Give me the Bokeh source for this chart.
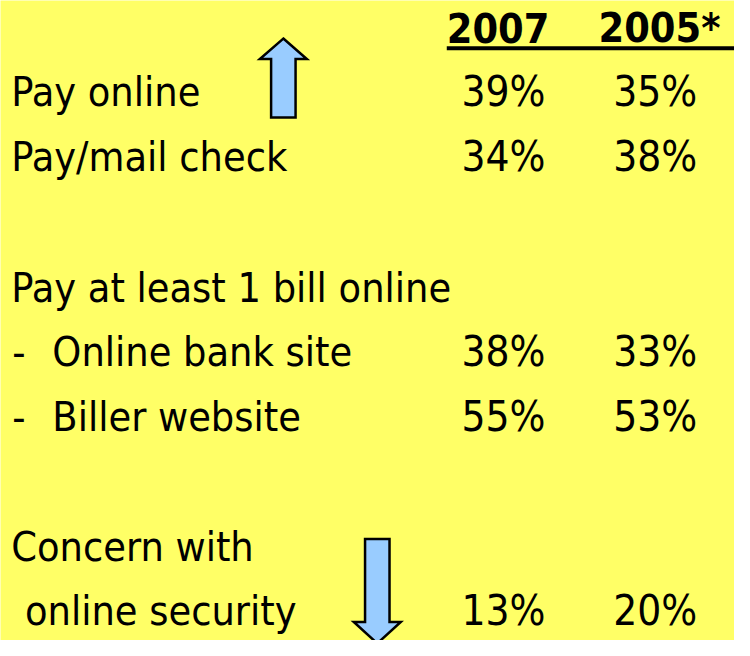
from bokeh.plotting import figure
from bokeh.models import Range1d, ColumnDataSource
from bokeh.core.properties import value
from bokeh.embed import file_html
from bokeh.resources import INLINE

# ---- data ----
years = ["2007", "2005*"]
labels = ["Pay online", "Pay/mail check", "Pay at least 1 bill online",
          "Online bank site", "Biller website", "Concern with", "online security"]
bullets = ["", "", "", "-", "-", "", ""]
pct_2007 = [39, 34, None, 38, 55, None, 13]
pct_2005 = [35, 38, None, 33, 53, None, 20]
trend = ["up", "", "", "", "", "", "down"]   # arrow markers

# ---- layout (reference-pixel coordinates, y downward) ----
W, H = 734, 640
REF_W, REF_H = 750, 656
FONT = value("DejaVu Sans Condensed")
BG = "#FFFF66"
ARROW_FILL = "#99CCFF"
LAB_FS, NUM_FS, HDR_FS = 41, 42, 41
SHIFT = 0.4  # em correction for the svg alphabetic baseline

row_base = [110.5, 177, 311.5, 377, 443, 577, 642]
label_x = [11, 11, 11, 53, 53, 11, 25]
col_x = [471, 626]
hdr_x = [456, 611]
hdr_base = 45
arrow_x = {"up": 289, "down": 385}

p = figure(width=W, height=H, output_backend="svg", toolbar_location=None,
           x_range=Range1d(0, REF_W), y_range=Range1d(REF_H, 0),
           min_border=0)
p.axis.visible = False
p.grid.visible = False
p.outline_line_color = None
p.background_fill_color = BG
p.border_fill_color = BG


def by(base, fs):
    return base - SHIFT * fs


# header
hdr = ColumnDataSource(dict(x=hdr_x, y=[by(hdr_base, HDR_FS)] * 2, t=years))
p.text(x="x", y="y", text="t", source=hdr, text_font=FONT, text_font_size=f"{HDR_FS}px",
       text_font_style="bold", text_baseline="alphabetic", text_align="left",
       text_color="black")
p.segment(x0=[456], y0=[49], x1=[750], y1=[49], line_color="black", line_width=4)

# labels
lab = ColumnDataSource(dict(x=label_x, y=[by(b, LAB_FS) for b in row_base], t=labels))
p.text(x="x", y="y", text="t", source=lab, text_font=FONT, text_font_size=f"{LAB_FS}px",
       text_baseline="alphabetic", text_align="left", text_color="black")
bx, byy, bt = [], [], []
for b, y in zip(bullets, row_base):
    if b:
        bx.append(12); byy.append(by(y, LAB_FS)); bt.append(b)
p.text(x=bx, y=byy, text=bt, text_font=FONT, text_font_size=f"{LAB_FS}px",
       text_baseline="alphabetic", text_align="left", text_color="black")

# values
for cx, vals in zip(col_x, [pct_2007, pct_2005]):
    xs, ys, ts = [], [], []
    for v, y in zip(vals, row_base):
        if v is not None:
            xs.append(cx); ys.append(by(y, NUM_FS)); ts.append(f"{v}%")
    p.text(x=xs, y=ys, text=ts, text_font=FONT, text_font_size=f"{NUM_FS}px",
           text_baseline="alphabetic", text_align="left", text_color="black")

# arrows
xs_list, ys_list = [], []
for tr, y in zip(trend, row_base):
    if tr == "up":
        cx = arrow_x["up"]
        tip, base, bottom = 39, 60, 120
        xs_list.append([cx, cx + 24, cx + 12.5, cx + 12.5, cx - 12.5, cx - 12.5, cx - 24])
        ys_list.append([tip, base, base, bottom, bottom, base, base])
    elif tr == "down":
        cx = arrow_x["down"]
        top, base, tip = 552, 637, 659
        xs_list.append([cx - 12.5, cx + 12.5, cx + 12.5, cx + 24, cx, cx - 24, cx - 12.5])
        ys_list.append([top, top, base, base, tip, base, base])
p.patches(xs=xs_list, ys=ys_list, fill_color=ARROW_FILL, line_color="black",
          line_width=2.5, line_join="miter")

open("out.html", "w").write(file_html(p, INLINE))
